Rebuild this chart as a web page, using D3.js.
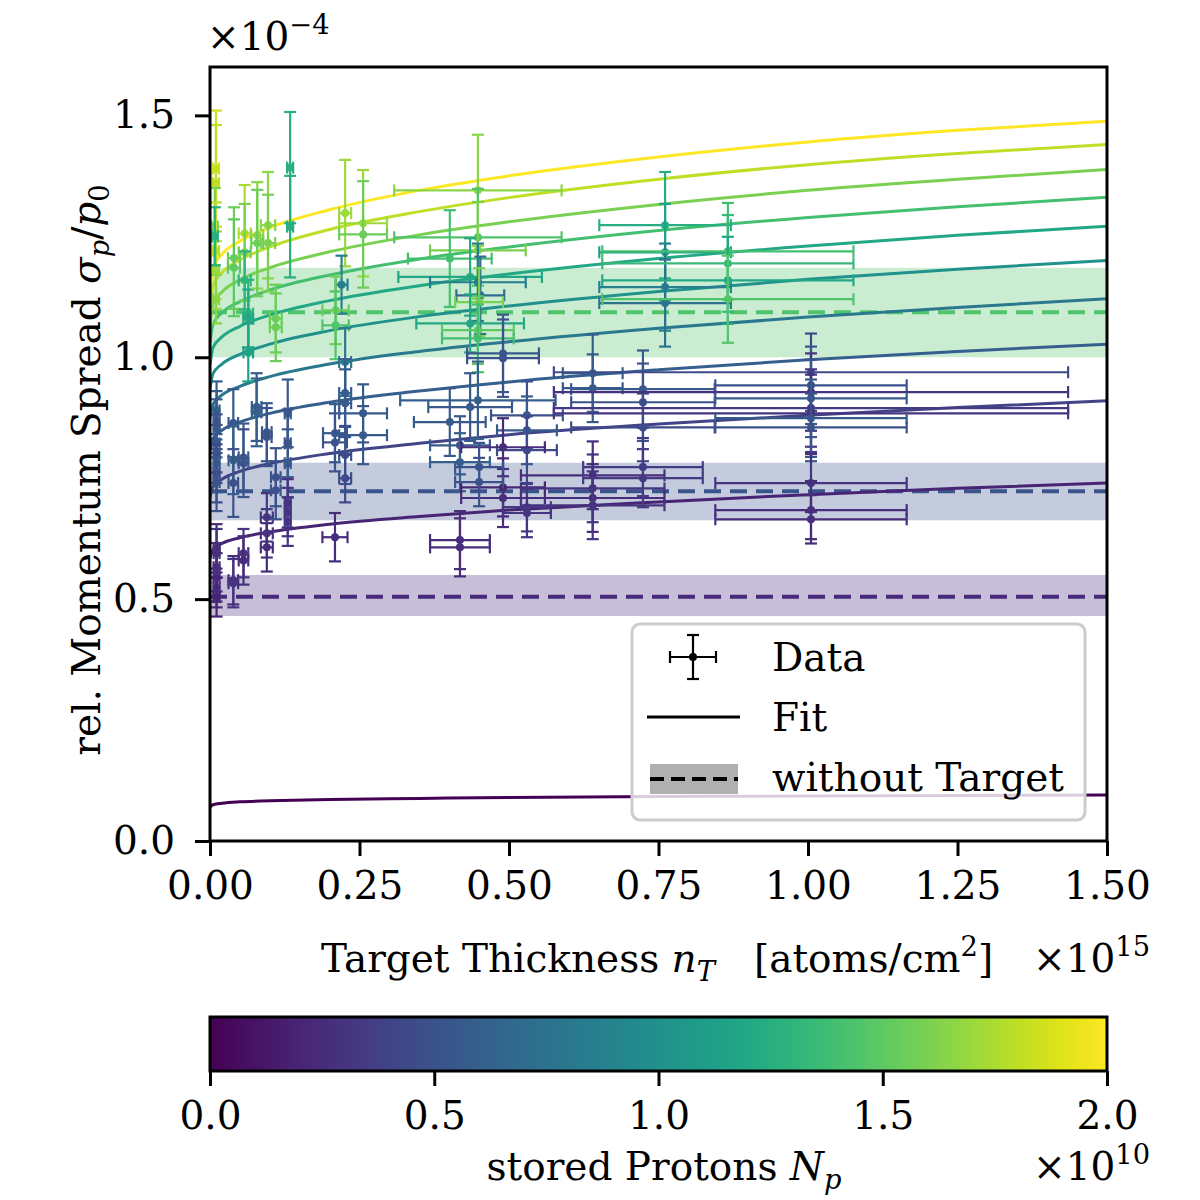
<!DOCTYPE html>
<html lang="en">
<head>
<meta charset="UTF-8" />
<title>Momentum Spread vs Target Thickness</title>
<script src="https://d3js.org/d3.v7.min.js"></script>
<style>
  body { margin: 0; background: #fff; }
  text { font-family: "DejaVu Serif", "Liberation Serif", serif; fill: #000; }
</style>
</head>
<body>
<svg id="chart" width="1200" height="1200"></svg>
<script>
// ---- data ----
var fitX = [0, 0.005, 0.02, 0.05, 0.1, 0.2, 0.35, 0.5, 0.75, 1.0, 1.25, 1.5];
var fitNp = [0, 0.2, 0.4, 0.6, 0.8, 1.0, 1.2, 1.4, 1.6, 1.8, 2.0];
var fitY = [
  [0.070, 0.075, 0.078, 0.081, 0.083, 0.086, 0.088, 0.090, 0.092, 0.093, 0.094, 0.095],
  [0.585, 0.603, 0.615, 0.627, 0.639, 0.655, 0.671, 0.684, 0.701, 0.716, 0.729, 0.740],
  [0.710, 0.733, 0.748, 0.764, 0.780, 0.801, 0.822, 0.840, 0.862, 0.880, 0.896, 0.910],
  [0.805, 0.832, 0.849, 0.866, 0.884, 0.907, 0.930, 0.949, 0.974, 0.995, 1.012, 1.027],
  [0.875, 0.903, 0.922, 0.940, 0.960, 0.986, 1.012, 1.032, 1.060, 1.083, 1.103, 1.121],
  [0.935, 0.966, 0.986, 1.006, 1.027, 1.055, 1.084, 1.106, 1.136, 1.161, 1.182, 1.200],
  [0.985, 1.020, 1.042, 1.064, 1.087, 1.117, 1.148, 1.172, 1.204, 1.230, 1.252, 1.271],
  [1.030, 1.068, 1.092, 1.115, 1.139, 1.170, 1.203, 1.228, 1.262, 1.289, 1.311, 1.331],
  [1.070, 1.110, 1.135, 1.160, 1.185, 1.218, 1.253, 1.280, 1.316, 1.345, 1.368, 1.388],
  [1.105, 1.148, 1.175, 1.201, 1.228, 1.264, 1.301, 1.330, 1.368, 1.398, 1.421, 1.440],
  [1.140, 1.185, 1.213, 1.240, 1.268, 1.305, 1.345, 1.375, 1.414, 1.445, 1.469, 1.488]
];

// "without Target" reference levels
var baseNp = [1.45, 0.52, 0.24];
var baseMean = [1.093, 0.723, 0.505];
var baseLow = [1.0, 0.663, 0.465];
var baseHigh = [1.185, 0.782, 0.55];

// measured points: [nT, sigma, nT err, sigma err, Np]
var points = [
  [0.010, 1.39, 0.005, 0.12, 1.85], [0.010, 1.36, 0.005, 0.12, 1.80],
  [0.008, 1.27, 0.005, 0.08, 1.60], [0.010, 1.22, 0.005, 0.10, 1.80],
  [0.010, 1.18, 0.005, 0.08, 1.70], [0.008, 1.25, 0.005, 0.06, 1.25],
  [0.010, 1.12, 0.005, 0.05, 1.65],
  [0.040, 1.205, 0.010, 0.105, 1.55], [0.040, 1.185, 0.010, 0.100, 1.50],
  [0.058, 1.256, 0.010, 0.100, 1.75], [0.058, 1.217, 0.010, 0.100, 1.60],
  [0.058, 1.159, 0.010, 0.060, 1.30], [0.064, 1.090, 0.008, 0.070, 1.30],
  [0.064, 1.080, 0.008, 0.060, 1.20], [0.064, 1.010, 0.008, 0.060, 1.15],
  [0.079, 1.252, 0.010, 0.110, 1.65], [0.079, 1.236, 0.010, 0.110, 1.55],
  [0.097, 1.273, 0.012, 0.110, 1.65], [0.097, 1.236, 0.012, 0.100, 1.60],
  [0.110, 1.080, 0.010, 0.070, 1.55], [0.110, 1.062, 0.010, 0.070, 1.55],
  [0.134, 1.392, 0.005, 0.115, 1.25], [0.134, 1.270, 0.005, 0.105, 1.25],
  [0.226, 1.298, 0.010, 0.110, 1.70], [0.220, 1.150, 0.010, 0.060, 0.85],
  [0.210, 1.097, 0.022, 0.070, 1.55], [0.210, 1.066, 0.022, 0.070, 1.45],
  [0.256, 1.277, 0.040, 0.110, 1.70], [0.256, 1.254, 0.040, 0.110, 1.55],
  [0.448, 1.345, 0.140, 0.115, 1.65], [0.448, 1.248, 0.140, 0.100, 1.45],
  [0.448, 1.221, 0.080, 0.100, 1.60], [0.401, 1.204, 0.070, 0.100, 1.40],
  [0.435, 1.166, 0.120, 0.080, 1.20], [0.448, 1.155, 0.080, 0.080, 0.85],
  [0.452, 1.128, 0.040, 0.080, 0.70], [0.450, 1.114, 0.040, 0.070, 1.60],
  [0.435, 1.070, 0.090, 0.060, 1.20], [0.448, 1.056, 0.060, 0.070, 1.50],
  [0.448, 1.039, 0.060, 0.070, 1.40],
  [0.490, 1.008, 0.060, 0.080, 0.55], [0.490, 0.998, 0.060, 0.080, 0.50],
  [0.448, 0.911, 0.130, 0.080, 0.60], [0.435, 0.897, 0.070, 0.070, 0.55],
  [0.401, 0.866, 0.060, 0.070, 0.55], [0.418, 0.818, 0.050, 0.060, 0.55],
  [0.418, 0.783, 0.050, 0.060, 0.60], [0.530, 0.880, 0.060, 0.070, 0.50],
  [0.530, 0.849, 0.050, 0.070, 0.55], [0.530, 0.808, 0.050, 0.070, 0.45],
  [0.490, 0.814, 0.070, 0.060, 0.25], [0.490, 0.731, 0.070, 0.060, 0.20],
  [0.490, 0.709, 0.070, 0.060, 0.25], [0.450, 0.773, 0.040, 0.050, 0.50],
  [0.450, 0.742, 0.040, 0.050, 0.50], [0.530, 0.690, 0.040, 0.050, 0.35],
  [0.530, 0.678, 0.040, 0.050, 0.30], [0.418, 0.622, 0.050, 0.060, 0.25],
  [0.418, 0.607, 0.050, 0.060, 0.25],
  [0.640, 0.967, 0.050, 0.080, 0.60], [0.640, 0.936, 0.050, 0.070, 0.55],
  [0.640, 0.756, 0.120, 0.070, 0.25], [0.640, 0.729, 0.120, 0.070, 0.30],
  [0.640, 0.709, 0.120, 0.070, 0.25], [0.640, 0.694, 0.120, 0.070, 0.30],
  [0.724, 0.934, 0.120, 0.080, 0.55], [0.724, 0.907, 0.120, 0.080, 0.50],
  [0.724, 0.855, 0.120, 0.070, 0.45], [0.724, 0.773, 0.100, 0.060, 0.35],
  [0.724, 0.750, 0.100, 0.060, 0.35],
  [0.761, 1.273, 0.110, 0.110, 1.25], [0.761, 1.217, 0.110, 0.100, 1.15],
  [0.761, 1.145, 0.110, 0.090, 0.85], [0.761, 1.112, 0.110, 0.090, 0.75],
  [0.866, 1.219, 0.210, 0.100, 1.40], [0.866, 1.194, 0.210, 0.100, 1.35],
  [0.866, 1.159, 0.210, 0.090, 1.20], [0.866, 1.120, 0.210, 0.090, 1.45],
  [1.005, 0.969, 0.430, 0.080, 0.45], [1.005, 0.942, 0.160, 0.080, 0.50],
  [1.005, 0.928, 0.430, 0.080, 0.30], [1.005, 0.915, 0.160, 0.080, 0.55],
  [1.005, 0.895, 0.430, 0.080, 0.35], [1.005, 0.884, 0.430, 0.080, 0.30],
  [1.005, 0.874, 0.160, 0.080, 0.55], [1.005, 0.855, 0.160, 0.070, 0.50],
  [1.005, 0.740, 0.160, 0.060, 0.30], [1.005, 0.684, 0.160, 0.060, 0.25],
  [1.005, 0.665, 0.160, 0.050, 0.25],
  [0.011, 0.890, 0.005, 0.060, 0.60], [0.011, 0.870, 0.005, 0.060, 0.55],
  [0.011, 0.853, 0.005, 0.060, 0.55], [0.011, 0.822, 0.005, 0.060, 0.50],
  [0.011, 0.800, 0.005, 0.060, 0.50], [0.011, 0.781, 0.005, 0.060, 0.55],
  [0.011, 0.760, 0.005, 0.060, 0.45], [0.011, 0.742, 0.005, 0.060, 0.50],
  [0.011, 0.605, 0.005, 0.050, 0.25], [0.011, 0.595, 0.005, 0.050, 0.30],
  [0.011, 0.566, 0.005, 0.050, 0.25], [0.011, 0.545, 0.005, 0.050, 0.25],
  [0.011, 0.523, 0.005, 0.040, 0.25], [0.011, 0.504, 0.005, 0.040, 0.20],
  [0.039, 0.864, 0.008, 0.070, 0.55], [0.039, 0.787, 0.008, 0.070, 0.60],
  [0.039, 0.740, 0.008, 0.070, 0.50], [0.039, 0.539, 0.008, 0.050, 0.25],
  [0.039, 0.533, 0.008, 0.050, 0.30], [0.056, 0.793, 0.008, 0.070, 0.55],
  [0.056, 0.781, 0.008, 0.070, 0.50], [0.056, 0.595, 0.008, 0.050, 0.30],
  [0.056, 0.580, 0.008, 0.050, 0.25], [0.078, 0.897, 0.008, 0.070, 0.55],
  [0.078, 0.886, 0.008, 0.070, 0.60], [0.095, 0.845, 0.008, 0.060, 0.55],
  [0.095, 0.835, 0.008, 0.060, 0.50], [0.095, 0.669, 0.010, 0.050, 0.30],
  [0.095, 0.636, 0.010, 0.050, 0.30], [0.095, 0.607, 0.010, 0.050, 0.25],
  [0.110, 0.752, 0.008, 0.060, 0.50], [0.110, 0.725, 0.008, 0.060, 0.50],
  [0.130, 0.884, 0.005, 0.070, 0.55], [0.130, 0.822, 0.005, 0.070, 0.50],
  [0.130, 0.781, 0.005, 0.070, 0.55], [0.130, 0.698, 0.005, 0.050, 0.30],
  [0.130, 0.680, 0.005, 0.050, 0.30], [0.130, 0.660, 0.005, 0.050, 0.30],
  [0.209, 0.628, 0.021, 0.050, 0.25], [0.209, 0.843, 0.020, 0.060, 0.55],
  [0.209, 0.824, 0.020, 0.060, 0.50], [0.226, 0.990, 0.010, 0.070, 0.80],
  [0.226, 0.926, 0.010, 0.070, 0.60], [0.226, 0.905, 0.010, 0.070, 0.55],
  [0.226, 0.798, 0.010, 0.060, 0.50], [0.226, 0.750, 0.010, 0.050, 0.45],
  [0.256, 0.884, 0.040, 0.060, 0.55], [0.256, 0.839, 0.040, 0.060, 0.55]
];

var xTicks = [0, 0.25, 0.5, 0.75, 1.0, 1.25, 1.5];
var yTicks = [0, 0.5, 1.0, 1.5];
var cTicks = [0, 0.5, 1.0, 1.5, 2.0];

// ---- layout ----
var svg = d3.select("#chart");
var L = 210, R = 1107, T = 67, B = 841;
var FS = 39;

var x = d3.scaleLinear().domain([0, 1.5]).range([L, R]);
var y = d3.scaleLinear().domain([0, 1.6]).range([B, T]);
var color = function (np) { return d3.interpolateViridis(np / 2); };

svg.append("defs").append("clipPath").attr("id", "plotclip")
  .append("rect").attr("x", L).attr("y", T).attr("width", R - L).attr("height", B - T);

var plot = svg.append("g").attr("clip-path", "url(#plotclip)");

// bands + dashed reference lines
baseNp.forEach(function (np, i) {
  plot.append("rect")
    .attr("x", x(0)).attr("width", x(1.5) - x(0))
    .attr("y", y(baseHigh[i])).attr("height", y(baseLow[i]) - y(baseHigh[i]))
    .attr("fill", color(np)).attr("fill-opacity", 0.3);
});
baseNp.forEach(function (np, i) {
  plot.append("line")
    .attr("x1", x(0)).attr("x2", x(1.5))
    .attr("y1", y(baseMean[i])).attr("y2", y(baseMean[i]))
    .attr("stroke", color(np)).attr("stroke-width", 4)
    .attr("stroke-dasharray", "17,9");
});

// fit curves
var line = d3.line().x(function (d) { return x(d[0]); }).y(function (d) { return y(d[1]); })
  .curve(d3.curveMonotoneX);
fitNp.forEach(function (np, i) {
  plot.append("path")
    .datum(fitX.map(function (v, j) { return [v, fitY[i][j]]; }))
    .attr("d", line)
    .attr("fill", "none")
    .attr("stroke", color(np))
    .attr("stroke-width", 3);
});

// error bars
var cap = 6;
var eb = plot.selectAll(".pt").data(points).enter().append("g").attr("class", "pt")
  .attr("stroke", function (d) { return color(d[4]); })
  .attr("fill", function (d) { return color(d[4]); })
  .attr("stroke-width", 2.2);
eb.append("line")
  .attr("x1", function (d) { return x(d[0] - d[2]); }).attr("x2", function (d) { return x(d[0] + d[2]); })
  .attr("y1", function (d) { return y(d[1]); }).attr("y2", function (d) { return y(d[1]); });
eb.append("line")
  .attr("x1", function (d) { return x(d[0]); }).attr("x2", function (d) { return x(d[0]); })
  .attr("y1", function (d) { return y(d[1] - d[3]); }).attr("y2", function (d) { return y(d[1] + d[3]); });
[-1, 1].forEach(function (s) {
  eb.append("line")
    .attr("x1", function (d) { return x(d[0] + s * d[2]); }).attr("x2", function (d) { return x(d[0] + s * d[2]); })
    .attr("y1", function (d) { return y(d[1]) - cap; }).attr("y2", function (d) { return y(d[1]) + cap; });
  eb.append("line")
    .attr("x1", function (d) { return x(d[0]) - cap; }).attr("x2", function (d) { return x(d[0]) + cap; })
    .attr("y1", function (d) { return y(d[1] + s * d[3]); }).attr("y2", function (d) { return y(d[1] + s * d[3]); });
});
eb.append("circle")
  .attr("cx", function (d) { return x(d[0]); }).attr("cy", function (d) { return y(d[1]); })
  .attr("r", 4).attr("stroke", "none");

// axes
var xAxis = svg.append("g").attr("transform", "translate(0," + B + ")")
  .call(d3.axisBottom(x).tickValues(xTicks).tickFormat(d3.format(".2f")).tickSize(15).tickPadding(15));
var yAxis = svg.append("g").attr("transform", "translate(" + L + ",0)")
  .call(d3.axisLeft(y).tickValues(yTicks).tickFormat(d3.format(".1f")).tickSize(15).tickPadding(20));
[xAxis, yAxis].forEach(function (a) {
  a.select(".domain").remove();
  a.selectAll(".tick line").attr("stroke", "#000").attr("stroke-width", 3);
  a.selectAll(".tick text").attr("font-size", FS).attr("font-family", "DejaVu Serif");
});

svg.append("rect").attr("x", L).attr("y", T).attr("width", R - L).attr("height", B - T)
  .attr("fill", "none").attr("stroke", "#000").attr("stroke-width", 3);

// math-ish text helper
function rich(sel, parts) {
  parts.forEach(function (p) {
    var t = sel.append("tspan").text(p.t);
    if (p.i) t.attr("font-style", "italic");
    if (p.sub) t.attr("font-size", FS * 0.7).attr("dy", 9);
    if (p.sup) t.attr("font-size", FS * 0.7).attr("dy", -16);
    if (p.back) t.attr("dy", p.back);
  });
  return sel;
}

// y label
rich(svg.append("text").attr("font-size", FS).attr("text-anchor", "middle")
  .attr("transform", "translate(86,470) rotate(-90)").attr("dy", "0.35em"), [
  { t: "rel. Momentum Spread " }, { t: "σ", i: true }, { t: "p", i: true, sub: true },
  { t: "/", back: -9 }, { t: "p", i: true }, { t: "0", sub: true }
]);

// x label
rich(svg.append("text").attr("font-size", FS).attr("text-anchor", "middle")
  .attr("x", 657).attr("y", 972), [
  { t: "Target Thickness " }, { t: "n", i: true }, { t: "T", i: true, sub: true },
  { t: "\u2003[atoms/cm", back: -9 }, { t: "2", sup: true }, { t: "]", back: 16 }
]);

// offset texts
rich(svg.append("text").attr("font-size", FS).attr("x", 207).attr("y", 50),
  [{ t: "×10" }, { t: "−4", sup: true }]);
rich(svg.append("text").attr("font-size", FS).attr("x", 1033).attr("y", 972),
  [{ t: "×10" }, { t: "15", sup: true }]);

// legend
var lg = svg.append("g");
lg.append("rect").attr("x", 632).attr("y", 624).attr("width", 453).attr("height", 196)
  .attr("rx", 8).attr("fill", "#fff").attr("fill-opacity", 0.8)
  .attr("stroke", "#cccccc").attr("stroke-width", 3);
var lgx = 693, lgy = 657;
lg.append("line").attr("x1", lgx - 23).attr("x2", lgx + 23).attr("y1", lgy).attr("y2", lgy).attr("stroke", "#000").attr("stroke-width", 2.2);
lg.append("line").attr("x1", lgx).attr("x2", lgx).attr("y1", lgy - 22).attr("y2", lgy + 22).attr("stroke", "#000").attr("stroke-width", 2.2);
[-1, 1].forEach(function (s) {
  lg.append("line").attr("x1", lgx + s * 23).attr("x2", lgx + s * 23).attr("y1", lgy - cap).attr("y2", lgy + cap).attr("stroke", "#000").attr("stroke-width", 2.2);
  lg.append("line").attr("x1", lgx - cap).attr("x2", lgx + cap).attr("y1", lgy + s * 22).attr("y2", lgy + s * 22).attr("stroke", "#000").attr("stroke-width", 2.2);
});
lg.append("circle").attr("cx", lgx).attr("cy", lgy).attr("r", 4);
lg.append("line").attr("x1", 647).attr("x2", 740).attr("y1", 717).attr("y2", 717).attr("stroke", "#000").attr("stroke-width", 3.2);
lg.append("rect").attr("x", 650).attr("y", 764).attr("width", 88).attr("height", 30).attr("fill", "#b0b0b0");
lg.append("line").attr("x1", 650).attr("x2", 738).attr("y1", 779).attr("y2", 779).attr("stroke", "#000").attr("stroke-width", 4).attr("stroke-dasharray", "14,7");
["Data", "Fit", "without Target"].forEach(function (s, i) {
  lg.append("text").attr("x", 772).attr("y", 671 + i * 60).attr("font-size", FS).text(s);
});

// colorbar
var cL = 210, cR = 1107, cT = 1017, cB = 1071;
var cx = d3.scaleLinear().domain([0, 2]).range([cL, cR]);
var grad = svg.select("defs").append("linearGradient").attr("id", "viridis");
d3.range(0, 1.0001, 0.05).forEach(function (t) {
  grad.append("stop").attr("offset", (t * 100) + "%").attr("stop-color", d3.interpolateViridis(t));
});
svg.append("rect").attr("x", cL).attr("y", cT).attr("width", cR - cL).attr("height", cB - cT)
  .attr("fill", "url(#viridis)").attr("stroke", "#000").attr("stroke-width", 3);
var cAxis = svg.append("g").attr("transform", "translate(0," + cB + ")")
  .call(d3.axisBottom(cx).tickValues(cTicks).tickFormat(d3.format(".1f")).tickSize(15).tickPadding(15));
cAxis.select(".domain").remove();
cAxis.selectAll(".tick line").attr("stroke", "#000").attr("stroke-width", 3);
cAxis.selectAll(".tick text").attr("font-size", FS).attr("font-family", "DejaVu Serif");

rich(svg.append("text").attr("font-size", FS).attr("text-anchor", "middle").attr("x", 664).attr("y", 1180),
  [{ t: "stored Protons " }, { t: "N", i: true }, { t: "p", i: true, sub: true }]);
rich(svg.append("text").attr("font-size", FS).attr("x", 1033).attr("y", 1180),
  [{ t: "×10" }, { t: "10", sup: true }]);
</script>
</body>
</html>
